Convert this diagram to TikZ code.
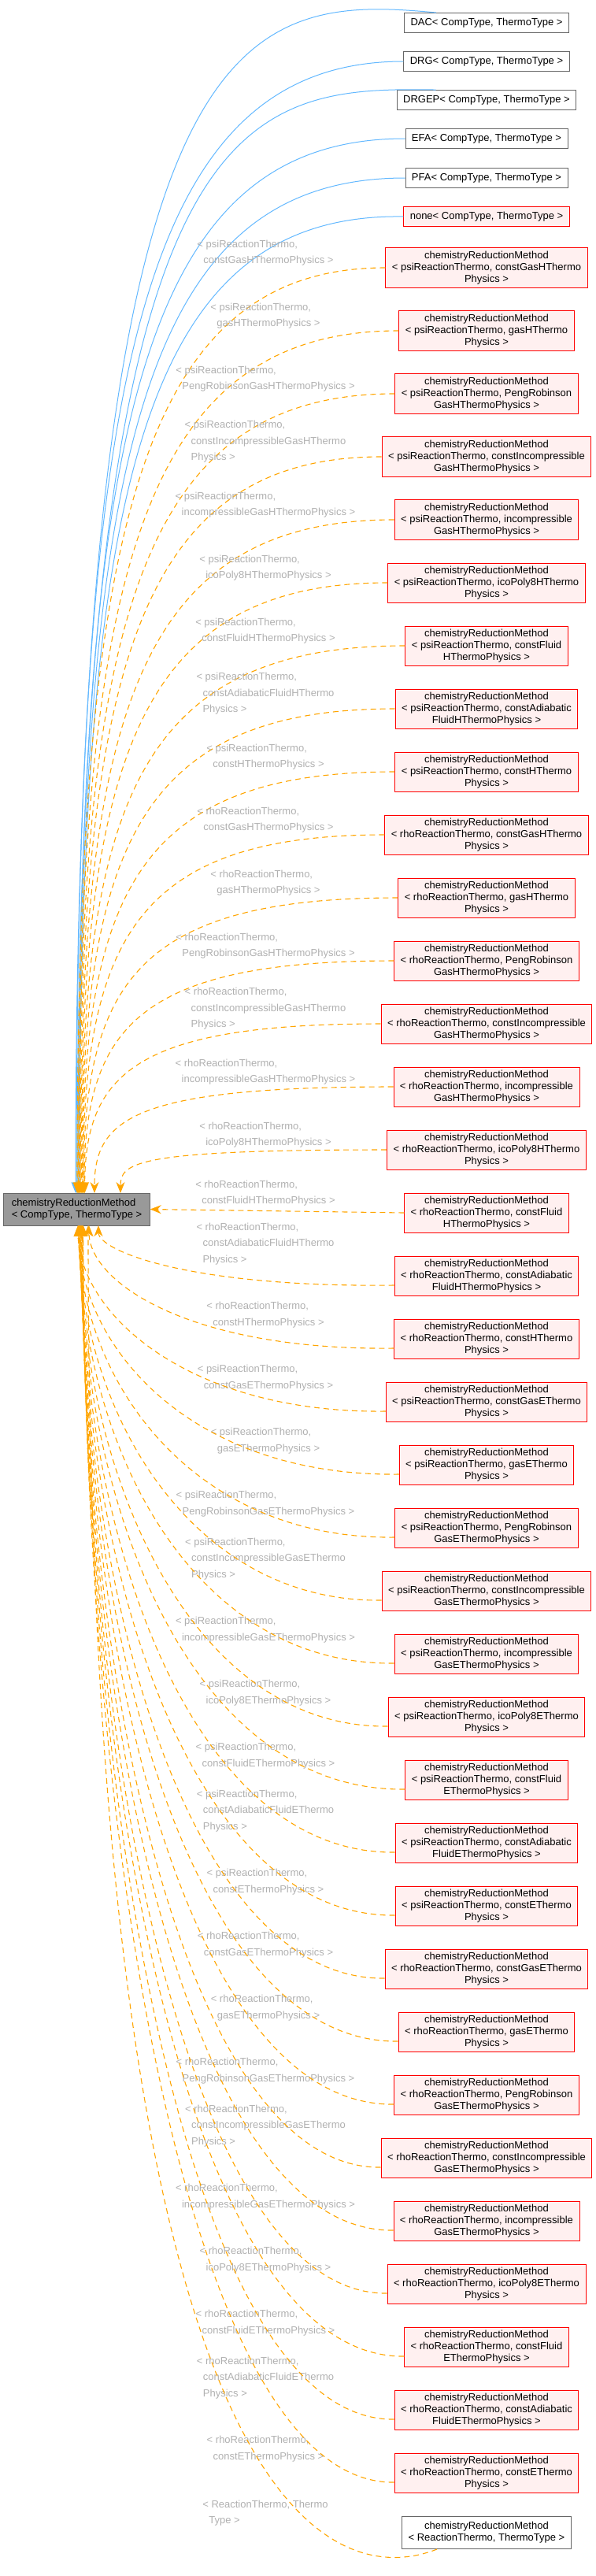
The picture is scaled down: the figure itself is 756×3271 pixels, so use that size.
\documentclass[tikz,border=0pt]{standalone}
\usepackage{fontspec}
\setmainfont{Liberation Sans}
\usetikzlibrary{arrows.meta}
\definecolor{boxfill}{HTML}{FFF0F0}
\definecolor{basefill}{HTML}{999999}
\definecolor{labgray}{HTML}{B0B0B0}
\definecolor{dorange}{HTML}{FFA500}
\definecolor{iblue}{HTML}{63B8FF}
\newcommand\fs{\fontsize{13pt}{15pt}\selectfont}
\newcommand\fl{\fontsize{13pt}{20.5pt}\selectfont}
\tikzset{
 box/.style={draw=red, fill=boxfill, line width=0.9pt, align=center, font=\fs, inner xsep=8pt, inner ysep=4pt},
 gbox/.style={draw=black!60, fill=white, line width=0.9pt, align=center, font=\fs, inner xsep=8pt, minimum height=25pt},
 rbox/.style={gbox, draw=red, fill=boxfill},
 lab/.style={text=labgray, align=left, font=\fl, inner sep=0pt},
 dep/.style={draw=dorange, dash pattern=on 7pt off 5pt, line width=1.1pt, -{Stealth[length=14pt,width=11pt,fill=dorange]}},
 inh/.style={draw=iblue, line width=1pt, -{Stealth[length=14pt,width=11pt,fill=iblue]}}
}
\newcommand\crmedge[1]{%
 \ifnum#1<15
   \ifnum#1=14 \def\xe{153}\else\ifnum#1=13 \def\xe{120}\else \pgfmathsetmacro\xe{98+0.8*#1}\fi\fi
   \draw[dep] (n#1.west) .. controls (170,\yy) and (\xe,{\yy+0.3*(1515-\yy)}) .. (\xe,1515);
 \else\ifnum#1=15
   \draw[dep] (n#1.west) -- (base.east);
 \else
   \ifnum#1=16 \def\xe{125}\else\ifnum#1=17 \def\xe{113}\else \pgfmathsetmacro\xe{99+0.4*(#1-18)}\fi\fi
   \draw[dep] ([yshift=-12pt]n#1.west) .. controls (240,\yy+15) and (\xe,{1556+0.5*(\yy-1556)}) .. (\xe,1556);
 \fi\fi}
\newcommand\crm[3]{%
 \pgfmathtruncatemacro\yy{340+80*#1}
 \node[box] (n#1) at (618,\yy) {chemistryReductionMethod\\#2};
 \ifnum#1<15 \node[lab] at (337,\yy-19) {#3};\else\ifnum#1=15 \node[lab] at (337,\yy-25) {#3};\else \node[lab,anchor=south] at (337,\yy-14) {#3};\fi\fi
 \crmedge{#1}}
\newcommand\crmfam[3]{% start, psi/rho, H/E
 \pgfmathtruncatemacro\ka{#1}\pgfmathtruncatemacro\kb{#1+1}\pgfmathtruncatemacro\kc{#1+2}
 \pgfmathtruncatemacro\kd{#1+3}\pgfmathtruncatemacro\ke{#1+4}\pgfmathtruncatemacro\kf{#1+5}
 \pgfmathtruncatemacro\kg{#1+6}\pgfmathtruncatemacro\kh{#1+7}\pgfmathtruncatemacro\ki{#1+8}
 \expandafter\crm\expandafter{\ka}{< #2ReactionThermo, constGas#3Thermo\\Physics >}{< #2ReactionThermo,\\\hspace*{8pt}constGas#3ThermoPhysics >}
 \expandafter\crm\expandafter{\kb}{< #2ReactionThermo, gas#3Thermo\\Physics >}{< #2ReactionThermo,\\\hspace*{8pt}gas#3ThermoPhysics >}
 \expandafter\crm\expandafter{\kc}{< #2ReactionThermo, PengRobinson\\Gas#3ThermoPhysics >}{< #2ReactionThermo,\\\hspace*{8pt}PengRobinsonGas#3ThermoPhysics >}
 \expandafter\crm\expandafter{\kd}{< #2ReactionThermo, constIncompressible\\Gas#3ThermoPhysics >}{< #2ReactionThermo,\\\hspace*{8pt}constIncompressibleGas#3Thermo\\\hspace*{8pt}Physics >}
 \expandafter\crm\expandafter{\ke}{< #2ReactionThermo, incompressible\\Gas#3ThermoPhysics >}{< #2ReactionThermo,\\\hspace*{8pt}incompressibleGas#3ThermoPhysics >}
 \expandafter\crm\expandafter{\kf}{< #2ReactionThermo, icoPoly8#3Thermo\\Physics >}{< #2ReactionThermo,\\\hspace*{8pt}icoPoly8#3ThermoPhysics >}
 \expandafter\crm\expandafter{\kg}{< #2ReactionThermo, constFluid\\#3ThermoPhysics >}{< #2ReactionThermo,\\\hspace*{8pt}constFluid#3ThermoPhysics >}
 \expandafter\crm\expandafter{\kh}{< #2ReactionThermo, constAdiabatic\\Fluid#3ThermoPhysics >}{< #2ReactionThermo,\\\hspace*{8pt}constAdiabaticFluid#3Thermo\\\hspace*{8pt}Physics >}
 \expandafter\crm\expandafter{\ki}{< #2ReactionThermo, const#3Thermo\\Physics >}{< #2ReactionThermo,\\\hspace*{8pt}const#3ThermoPhysics >}
}
\begin{document}
\begin{tikzpicture}[x=1pt,y=-1pt]
\useasboundingbox (0,0) rectangle (756,3271);
\node[draw=black!60, fill=basefill, line width=0.9pt, align=left, font=\fs, minimum width=185pt, minimum height=41pt, inner xsep=10pt] (base) at (97.5,1535.5) {chemistryReductionMethod\\< CompType, ThermoType >};
% top classes
\node[gbox] (dac) at (618,29) {DAC< CompType, ThermoType >};
\node[gbox] (drg) at (618,78) {DRG< CompType, ThermoType >};
\node[gbox] (drgep) at (618,127) {DRGEP< CompType, ThermoType >};
\node[gbox] (efa) at (618,176) {EFA< CompType, ThermoType >};
\node[gbox] (pfa) at (618,226) {PFA< CompType, ThermoType >};
\node[rbox] (none) at (618,275) {none< CompType, ThermoType >};
\draw[inh] ([xshift=41pt]dac.north west) .. controls (300,-8) and (96,20) .. (96,1515);
\draw[inh] (drg.west) .. controls (170,78) and (97,500) .. (97,1515);
\draw[inh] ([xshift=50pt]drgep.north west) .. controls (300,110) and (98,130) .. (98,1515);
\draw[inh] (efa.west) .. controls (170,176) and (99,560) .. (99,1515);
\draw[inh] (pfa.west) .. controls (170,226) and (100,600) .. (100,1515);
\draw[inh] (none.west) .. controls (170,270) and (101,640) .. (101,1515);
\crmfam{0}{psi}{H}
\crmfam{9}{rho}{H}
\crmfam{18}{psi}{E}
\crmfam{27}{rho}{E}
\node[gbox, align=center, minimum height=41pt] (last) at (618,3216) {chemistryReductionMethod\\< ReactionThermo, ThermoType >};
\node[lab] at (337,3191) {< ReactionThermo, Thermo\\\hspace*{8pt}Type >};
\draw[dep] ([xshift=-63pt]last.south) .. controls (420,3290) and (112,3200) .. (112,1556);
\end{tikzpicture}
\end{document}
